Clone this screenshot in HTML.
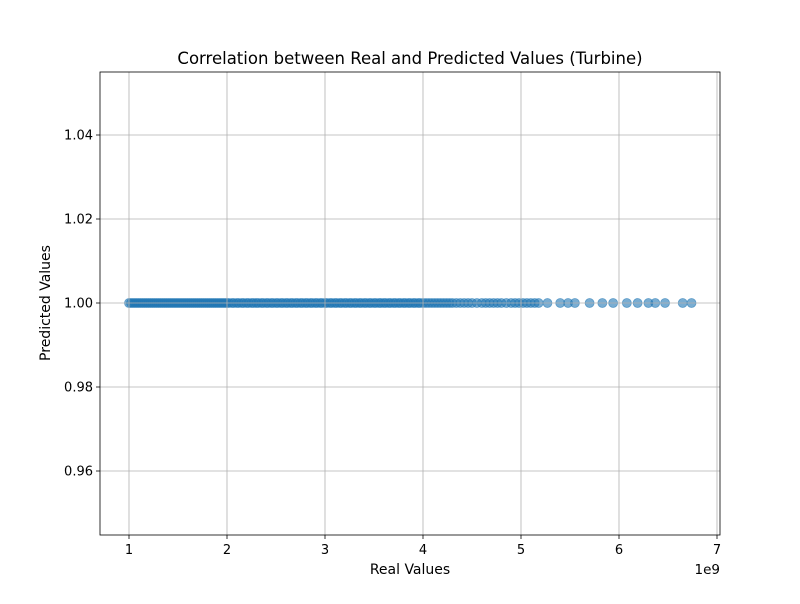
<!DOCTYPE html>
<html><head><meta charset="utf-8"><style>
body{margin:0;background:#fff;font-family:"DejaVu Sans","Liberation Sans",sans-serif;}
svg text{font-family:"DejaVu Sans","Liberation Sans",sans-serif;}
</style></head><body>
<svg id="chart" width="800" height="600" viewBox="0 0 800 600">
<rect width="800" height="600" fill="#fff"/>
<g id="pts"></g><g id="grid"></g><g id="axes"></g>
</svg>
<script>
const xTicks=[1,2,3,4,5,6,7];
const yTicks=[0.96,0.98,1.00,1.02,1.04];
const yTickLabels=["0.96","0.98","1.00","1.02","1.04"];
const realValues=[1.00,1.02,1.04,1.06,1.08,1.10,1.12,1.14,1.16,1.18,1.20,1.22,1.24,1.26,1.28,1.30,1.32,1.34,1.36,1.38,1.40,1.42,1.44,1.46,1.48,1.50,1.52,1.54,1.56,1.58,1.60,1.62,1.64,1.66,1.68,1.70,1.72,1.74,1.76,1.78,1.80,1.82,1.84,1.86,1.88,1.90,1.92,1.94,1.96,1.98,2.00,2.02,2.05,2.07,2.10,2.12,2.15,2.17,2.20,2.22,2.25,2.27,2.30,2.32,2.35,2.37,2.40,2.42,2.45,2.47,2.50,2.52,2.55,2.57,2.60,2.62,2.65,2.67,2.70,2.72,2.75,2.77,2.80,2.82,2.85,2.87,2.90,2.92,2.95,2.97,3.00,3.02,3.05,3.07,3.10,3.12,3.15,3.17,3.20,3.22,3.25,3.27,3.30,3.32,3.35,3.37,3.40,3.42,3.45,3.47,3.50,3.52,3.55,3.57,3.60,3.62,3.65,3.67,3.70,3.72,3.75,3.77,3.80,3.82,3.85,3.87,3.90,3.92,3.95,3.97,4.00,4.03,4.06,4.09,4.12,4.15,4.18,4.21,4.24,4.27,4.30,4.34,4.38,4.42,4.46,4.50,4.55,4.60,4.64,4.68,4.72,4.76,4.80,4.85,4.90,4.94,4.98,5.02,5.06,5.10,5.14,5.18,5.27,5.40,5.48,5.55,5.70,5.83,5.94,6.08,6.19,6.30,6.37,6.47,6.65,6.74];
const predictedValues=realValues.map(()=>1.0);
const L=100,R=720,T=72,B=535;
const xs=v=>129+(v-1)*98;
const ys=v=>303-(v-1)*4200;
const NS="http://www.w3.org/2000/svg";
function mk(tag,attrs,parent){const e=document.createElementNS(NS,tag);for(const k in attrs)e.setAttribute(k,attrs[k]);parent.appendChild(e);return e;}
const grid=document.getElementById('grid'),pts=document.getElementById('pts'),axes=document.getElementById('axes');
xTicks.forEach(t=>{const x=xs(t);
 const g=mk('line',{x1:x,x2:x,y1:T,y2:B,stroke:'#b0b0b0','stroke-width':0.8},grid);
 
 
 mk('line',{x1:x,x2:x,y1:B,y2:B+4,stroke:'#000','stroke-width':0.8},axes);
 const tx=mk('text',{x:x,y:B+19,'text-anchor':'middle','font-size':13},axes);tx.textContent=t;
 
 
});
yTicks.forEach((t,i)=>{const y=ys(t);
 const g=mk('line',{x1:L,x2:R,y1:y,y2:y,stroke:'#b0b0b0','stroke-width':0.8},grid);
 
 
 mk('line',{x1:L-4,x2:L,y1:y,y2:y,stroke:'#000','stroke-width':0.8},axes);
 const tx=mk('text',{x:L-7,y:y+4.5,'text-anchor':'end','font-size':13},axes);tx.textContent=yTickLabels[i];
 
 
});
realValues.forEach((v,i)=>{
 const c=mk('circle',{cx:xs(v),cy:ys(predictedValues[i]),r:4.5,fill:'#1f77b4','fill-opacity':0.6,stroke:'#1f77b4','stroke-opacity':0.6,'stroke-width':0.8},pts);
 
 
});
const fr=mk('rect',{x:L,y:T,width:R-L,height:B-T,fill:'none',stroke:'#000','stroke-width':0.8},axes);


const title=mk('text',{x:410,y:64,'text-anchor':'middle','font-size':16.5},axes);title.textContent='Correlation between Real and Predicted Values (Turbine)';


const xl=mk('text',{x:410,y:574,'text-anchor':'middle','font-size':14},axes);xl.textContent='Real Values';


const yl=mk('text',{x:50,y:303,'text-anchor':'middle','font-size':14,transform:'rotate(-90 50 303)'},axes);yl.textContent='Predicted Values';


const off=mk('text',{x:720,y:574,'text-anchor':'end','font-size':13.5},axes);off.textContent='1e9';


</script>
</body></html>
